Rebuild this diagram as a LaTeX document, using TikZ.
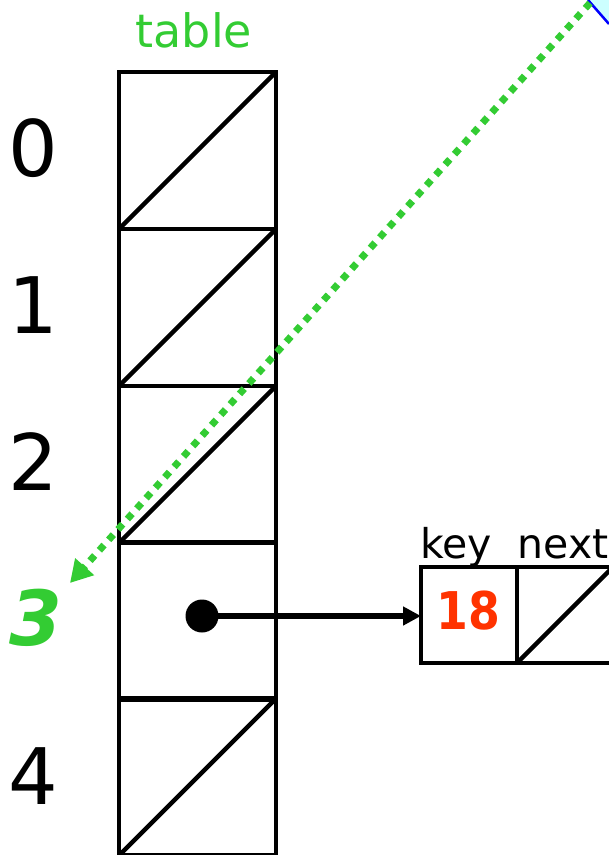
\documentclass[tikz,border=0pt]{standalone}
\usepackage{fontspec}
\setmainfont{DejaVu Sans}
\usetikzlibrary{arrows.meta}
\definecolor{grn}{RGB}{51,204,51}
\definecolor{org}{RGB}{255,51,0}
\definecolor{cyanfill}{RGB}{204,255,255}
\begin{document}
\begin{tikzpicture}[x=1pt,y=-1pt,
  cellbox/.style={draw=black,line width=4.5pt,minimum width=157pt,minimum height=157pt,inner sep=0pt,outer sep=0pt},
  listbox/.style={draw=black,line width=4.5pt,minimum width=96pt,minimum height=96pt,inner sep=0pt,outer sep=0pt},
  idx/.style={font=\fontsize{78}{78}\selectfont,anchor=center,inner sep=0pt},
  lbl/.style={font=\fontsize{41}{41}\selectfont,anchor=base,inner sep=0pt},
  slash/.style={line width=4.5pt}]
\useasboundingbox (0,0) rectangle (609,855);
% corner of off-picture shape
\fill[cyanfill] (588,0) -- (609,24) -- (609,0) -- cycle;
\draw[blue,line width=2.5pt] (588,0) -- (609,24);
% table cells
\foreach \i/\y in {0/150.5,1/307.5,2/464.5,3/621,4/777}{
  \node[cellbox] (c\i) at (197.5,\y) {};
}
\foreach \i in {0,1,2,4}{ \draw[slash] (c\i.south west) -- (c\i.north east); }
\node[font=\fontsize{46}{46}\selectfont,text=grn,anchor=base,inner sep=0pt] (title) at (194,47) {table};
\node[idx] (l0) at (33,148) {0};
\node[idx] (l1) at (33,305) {1};
\node[idx] (l2) at (33,462) {2};
\node[idx,text=grn,font=\fontsize{76}{76}\selectfont\bfseries\itshape] (l3) at (36,618) {3};
\node[idx] (l4) at (33,776) {4};
% list node
\node[listbox] (key) at (469,615) {};
\node[listbox] (nxt) at (565,615) {};
\draw[slash] (nxt.south west) -- (nxt.north east);
\node[font=\fontsize{52}{52}\selectfont\bfseries,text=org,xscale=0.88,inner sep=0pt] (k18) at (468,611) {18};
\node[lbl] (lkey) at (456,558) {key};
\node[lbl] (lnext) at (563,558) {next};
% pointer
\coordinate (dot) at (202,616);
\fill (dot) circle (16.5pt);
\draw[line width=5.5pt,-{Triangle[length=18pt,width=18pt]}] (dot) -- (key.west |- dot);
% dotted green hash arrow
\coordinate (hs) at (590,3);
\coordinate (he) at (70,583);
\draw[grn,line width=7pt,dash pattern=on 7pt off 7pt,-{Triangle[length=22pt,width=24pt]}] (hs) -- (he);
\end{tikzpicture}
\end{document}
